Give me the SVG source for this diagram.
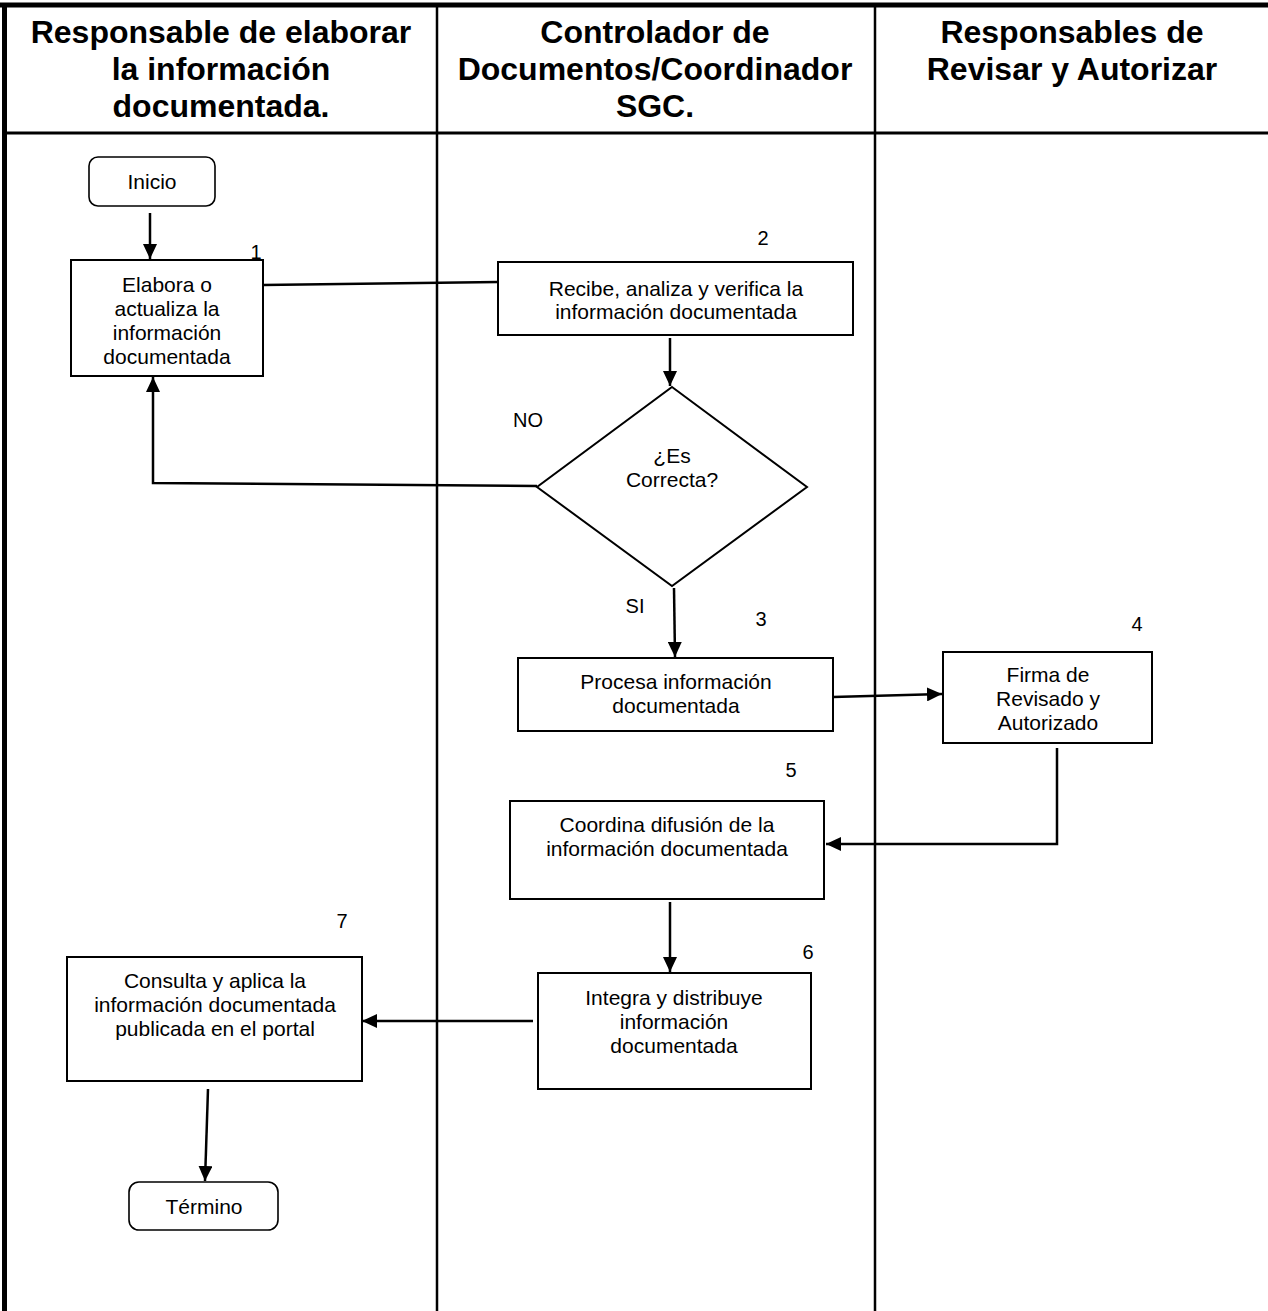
<svg xmlns="http://www.w3.org/2000/svg" width="1268" height="1311" viewBox="0 0 1268 1311">
<style>
  .hdr { font-family: "Liberation Sans", Arial, sans-serif; font-weight: bold; font-size: 32px; fill: #000; text-anchor: middle; }
  .t { font-family: "Liberation Sans", Arial, sans-serif; font-size: 21px; fill: #000; text-anchor: middle; }
  .num { font-family: "Liberation Sans", Arial, sans-serif; font-size: 20px; fill: #000; text-anchor: middle; }
  .box { fill: #fff; stroke: #000; stroke-width: 2; }
  .term { fill: #fff; stroke: #000; stroke-width: 1.6; }
  .edge { fill: none; stroke: #000; stroke-width: 2.5; }
  .grid { stroke: #000; fill: none; }
</style>
<defs>
  <marker id="ah" markerUnits="userSpaceOnUse" markerWidth="16" markerHeight="14" refX="15" refY="7" orient="auto">
    <path d="M0,0 L15,7 L0,14 Z" fill="#000"/>
  </marker>
</defs>
<rect x="0" y="0" width="1268" height="1311" fill="#fff"/>

<g id="lanes">
  <line class="grid" x1="0" y1="5" x2="1268" y2="5" stroke-width="5"/>
  <line class="grid" x1="4.5" y1="3" x2="4.5" y2="1311" stroke-width="5"/>
  <line class="grid" x1="3" y1="133" x2="1268" y2="133" stroke-width="3"/>
  <line class="grid" x1="437" y1="3" x2="437" y2="1311" stroke-width="2.5"/>
  <line class="grid" x1="875" y1="3" x2="875" y2="1311" stroke-width="2.5"/>
  <text class="hdr" x="221" y="43">Responsable de elaborar</text>
  <text class="hdr" x="221" y="80">la información</text>
  <text class="hdr" x="221" y="117">documentada.</text>
  <text class="hdr" x="655" y="43">Controlador de</text>
  <text class="hdr" x="655" y="80">Documentos/Coordinador</text>
  <text class="hdr" x="655" y="117">SGC.</text>
  <text class="hdr" x="1072" y="43">Responsables de</text>
  <text class="hdr" x="1072" y="80">Revisar y Autorizar</text>
</g>

<g id="connectors">
  <line class="edge" x1="150" y1="213" x2="150" y2="259" marker-end="url(#ah)"/>
  <line class="edge" x1="263" y1="285" x2="498" y2="282"/>
  <line class="edge" x1="670" y1="338" x2="670" y2="386" marker-end="url(#ah)"/>
  <polyline class="edge" points="537,486 153,483 153,377" marker-end="url(#ah)"/>
  <line class="edge" x1="674" y1="588" x2="675" y2="657" marker-end="url(#ah)"/>
  <line class="edge" x1="833" y1="697" x2="942" y2="694" marker-end="url(#ah)"/>
  <polyline class="edge" points="1057,748 1057,844 826,844" marker-end="url(#ah)"/>
  <line class="edge" x1="670" y1="902" x2="670" y2="972" marker-end="url(#ah)"/>
  <line class="edge" x1="533" y1="1021" x2="362" y2="1021" marker-end="url(#ah)"/>
  <line class="edge" x1="208" y1="1089" x2="205" y2="1181" marker-end="url(#ah)"/>
  <text class="num" x="528" y="427">NO</text>
  <text class="num" x="635" y="613">SI</text>
</g>

<g id="inicio">
  <rect class="term" x="89" y="157" width="126" height="49" rx="9"/>
  <text class="t" x="152" y="189">Inicio</text>
</g>

<g id="n1">
  <rect class="box" x="71" y="260" width="192" height="116"/>
  <text class="t" x="167" y="292">Elabora o</text>
  <text class="t" x="167" y="316">actualiza la</text>
  <text class="t" x="167" y="340">información</text>
  <text class="t" x="167" y="364">documentada</text>
  <text class="num" x="256" y="259">1</text>
</g>

<g id="n2">
  <rect class="box" x="498" y="262" width="355" height="73"/>
  <text class="t" x="676" y="296">Recibe, analiza y verifica la</text>
  <text class="t" x="676" y="319">información documentada</text>
  <text class="num" x="763" y="245">2</text>
</g>

<g id="decision">
  <polygon class="box" points="672,387 807,487 672,586 537,487" stroke-width="1.8"/>
  <text class="t" x="672" y="463">¿Es</text>
  <text class="t" x="672" y="487">Correcta?</text>
</g>

<g id="n3">
  <rect class="box" x="518" y="658" width="315" height="73"/>
  <text class="t" x="676" y="689">Procesa información</text>
  <text class="t" x="676" y="713">documentada</text>
  <text class="num" x="761" y="626">3</text>
</g>

<g id="n4">
  <rect class="box" x="943" y="652" width="209" height="91"/>
  <text class="t" x="1048" y="682">Firma de</text>
  <text class="t" x="1048" y="706">Revisado y</text>
  <text class="t" x="1048" y="730">Autorizado</text>
  <text class="num" x="1137" y="631">4</text>
</g>

<g id="n5">
  <rect class="box" x="510" y="801" width="314" height="98"/>
  <text class="t" x="667" y="832">Coordina difusión de la</text>
  <text class="t" x="667" y="856">información documentada</text>
  <text class="num" x="791" y="777">5</text>
</g>

<g id="n6">
  <rect class="box" x="538" y="973" width="273" height="116"/>
  <text class="t" x="674" y="1005">Integra y distribuye</text>
  <text class="t" x="674" y="1029">información</text>
  <text class="t" x="674" y="1053">documentada</text>
  <text class="num" x="808" y="959">6</text>
</g>

<g id="n7">
  <rect class="box" x="67" y="957" width="295" height="124"/>
  <text class="t" x="215" y="988">Consulta y aplica la</text>
  <text class="t" x="215" y="1012">información documentada</text>
  <text class="t" x="215" y="1036">publicada en el portal</text>
  <text class="num" x="342" y="928">7</text>
</g>

<g id="termino">
  <rect class="term" x="129" y="1182" width="149" height="48" rx="10"/>
  <text class="t" x="204" y="1214">Término</text>
</g>
</svg>
